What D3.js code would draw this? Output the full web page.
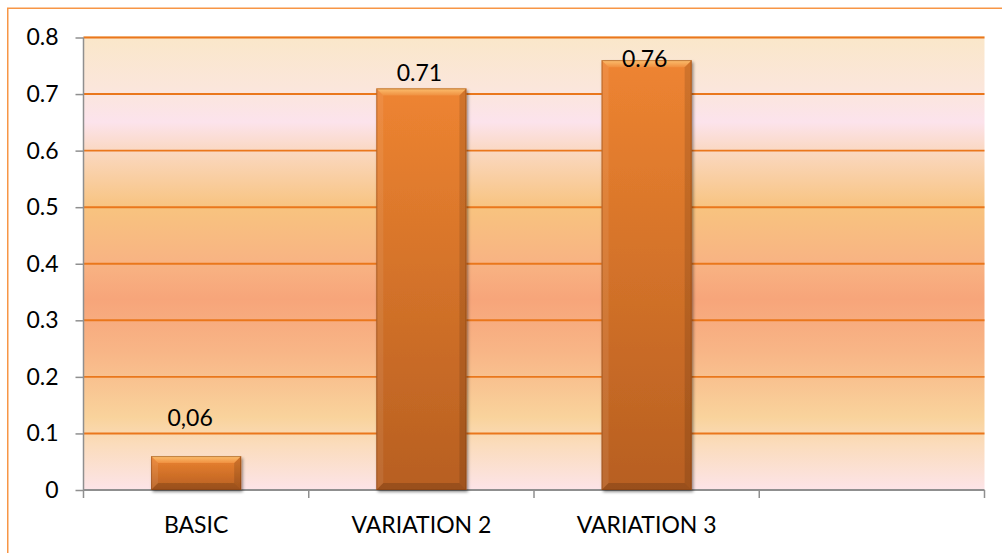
<!DOCTYPE html>
<html>
<head>
<meta charset="utf-8">
<script src="https://cdn.jsdelivr.net/npm/d3@7"></script>
<style>
  html, body { margin: 0; padding: 0; background: #ffffff; }
  svg { display: block; }
  text { font-family: Lato, "Open Sans", "Liberation Sans", sans-serif; fill: #000; }
</style>
</head>
<body>
<svg id="chart" width="1002" height="553"></svg>
<script>
// Categories along the x axis (the fourth slot is empty)
const categories = ["BASIC", "VARIATION 2", "VARIATION 3", ""];
// Bar values
const values = [0.06, 0.71, 0.76];
// Text shown above each bar
const valueLabels = ["0,06", "0.71", "0.76"];
// Y axis ticks
const yTicks = [0, 0.1, 0.2, 0.3, 0.4, 0.5, 0.6, 0.7, 0.8];
const yTickLabels = ["0", "0.1", "0.2", "0.3", "0.4", "0.5", "0.6", "0.7", "0.8"];

const svg = d3.select("#chart");
const W = 1002, H = 553;
const plot = { left: 83.5, right: 984.5, top: 37.5, bottom: 490 };

const x = d3.scaleBand().domain(d3.range(categories.length))
  .range([plot.left, plot.right]).paddingInner(0.6).paddingOuter(0.3);
const xb = d3.scaleBand().domain(d3.range(categories.length))
  .range([plot.left, plot.right]);
const y = d3.scaleLinear().domain([0, 0.8]).range([plot.bottom, plot.top]);

const defs = svg.append("defs");

// Plot-area background bands
const bg = defs.append("linearGradient").attr("id", "bgGrad")
  .attr("x1", 0).attr("y1", 0).attr("x2", 0).attr("y2", 1);
[
  [0.00, "#fae7c9"],
  [0.12, "#fbe6dc"],
  [0.19, "#fce3ec"],
  [0.26, "#fad7bd"],
  [0.38, "#f8c37f"],
  [0.50, "#f8b383"],
  [0.58, "#f7a57a"],
  [0.70, "#f8b687"],
  [0.84, "#f9d39c"],
  [0.90, "#fbdcbc"],
  [1.00, "#fce4e8"]
].forEach(([o, c]) => bg.append("stop").attr("offset", o).attr("stop-color", c));

// Bar body gradient
const bar = defs.append("linearGradient").attr("id", "barGrad")
  .attr("x1", 0).attr("y1", 0).attr("x2", 0).attr("y2", 1);
bar.append("stop").attr("offset", 0).attr("stop-color", "#ee8431");
bar.append("stop").attr("offset", 1).attr("stop-color", "#b75f21");

const topBevel = defs.append("linearGradient").attr("id", "topBevel")
  .attr("x1", 0).attr("y1", 0).attr("x2", 0).attr("y2", 1);
topBevel.append("stop").attr("offset", 0).attr("stop-color", "#fcc070");
topBevel.append("stop").attr("offset", 1).attr("stop-color", "#f09040");

const shadow = defs.append("filter").attr("id", "shadow")
  .attr("x", "-20%").attr("y", "-20%").attr("width", "140%").attr("height", "140%");
shadow.append("feDropShadow").attr("dx", 1.5).attr("dy", 2).attr("stdDeviation", 1.8)
  .attr("flood-color", "#000").attr("flood-opacity", 0.45);

// Outer chart border
svg.append("rect")
  .attr("x", 7.75).attr("y", 8.25).attr("width", W).attr("height", H)
  .attr("fill", "none").attr("stroke", "#f79646").attr("stroke-width", 1.5);

// Plot background
svg.append("rect")
  .attr("x", plot.left).attr("y", plot.top - 1.5)
  .attr("width", plot.right - plot.left).attr("height", plot.bottom - plot.top + 1.5)
  .attr("fill", "url(#bgGrad)");

// Gridlines
svg.append("g").selectAll("line")
  .data(yTicks.filter(t => t > 0))
  .join("line")
  .attr("x1", plot.left).attr("x2", plot.right)
  .attr("y1", d => y(d)).attr("y2", d => y(d))
  .attr("stroke", "#ea771c").attr("stroke-width", 1.9);

// Y axis
const yAxis = svg.append("g").attr("transform", `translate(${plot.left},0)`)
  .call(d3.axisLeft(y).tickValues(yTicks).tickSize(8).tickPadding(17)
    .tickFormat((d, i) => yTickLabels[i]));
yAxis.select(".domain").attr("stroke", "#8f8f8f").attr("stroke-width", 1.5)
  .attr("d", `M0,${plot.top}V${plot.bottom}`);
yAxis.selectAll(".tick line").attr("stroke", "#8f8f8f").attr("stroke-width", 1.5);
yAxis.selectAll(".tick text").attr("font-size", 23)
  .attr("font-family", "Lato, 'Open Sans', sans-serif").attr("fill", "#000");

// X axis
const xAxis = svg.append("g").attr("transform", `translate(0,${plot.bottom})`);
xAxis.append("line").attr("x1", plot.left).attr("x2", plot.right)
  .attr("stroke", "#8f8f8f").attr("stroke-width", 1.8);
xAxis.selectAll("line.tick")
  .data(d3.range(categories.length + 1))
  .join("line").attr("class", "tick")
  .attr("x1", d => d < categories.length ? xb(d) : plot.right)
  .attr("x2", d => d < categories.length ? xb(d) : plot.right)
  .attr("y1", 0).attr("y2", 8)
  .attr("stroke", "#8f8f8f").attr("stroke-width", 1.5);
xAxis.selectAll("text")
  .data(categories)
  .join("text")
  .attr("x", (d, i) => xb(i) + xb.bandwidth() / 2)
  .attr("y", 42.5)
  .attr("text-anchor", "middle")
  .attr("font-size", 23)
  .text(d => d);

// Bars with bevelled edges
const bev = 7;
const bars = svg.append("g").selectAll("g.bar")
  .data(values)
  .join("g").attr("class", "bar");

bars.each(function (v, i) {
  const g = d3.select(this);
  const x0 = x(i), w = x.bandwidth();
  const y0 = y(v), h = y(0) - y(v);
  const b = Math.min(bev, h / 2);
  g.append("rect").attr("x", x0).attr("y", y0).attr("width", w).attr("height", h)
    .attr("fill", "url(#barGrad)").attr("filter", "url(#shadow)");
  // top bevel
  g.append("path")
    .attr("d", `M${x0},${y0}H${x0 + w}L${x0 + w - b},${y0 + b}H${x0 + b}Z`)
    .attr("fill", "url(#topBevel)");
  // left bevel
  g.append("path")
    .attr("d", `M${x0},${y0}L${x0 + b},${y0 + b}V${y0 + h - b}L${x0},${y0 + h}Z`)
    .attr("fill", "#ffffff").attr("fill-opacity", 0.08);
  // right bevel
  g.append("path")
    .attr("d", `M${x0 + w},${y0}L${x0 + w - b},${y0 + b}V${y0 + h - b}L${x0 + w},${y0 + h}Z`)
    .attr("fill", "#000000").attr("fill-opacity", 0.12);
  // bottom bevel
  g.append("path")
    .attr("d", `M${x0},${y0 + h}L${x0 + b},${y0 + h - b}H${x0 + w - b}L${x0 + w},${y0 + h}Z`)
    .attr("fill", "#000000").attr("fill-opacity", 0.16);
  // outline
  g.append("rect").attr("x", x0 + 0.5).attr("y", y0 + 0.5)
    .attr("width", w - 1).attr("height", h - 1)
    .attr("fill", "none").attr("stroke", "#7a3a0e").attr("stroke-opacity", 0.45)
    .attr("stroke-width", 1);
});

// Value labels, kept above the 0.1 gridline and inside the plot top
svg.append("g").selectAll("text")
  .data(values)
  .join("text")
  .attr("x", (d, i) => x(i) + x.bandwidth() / 2 - (d < 0.1 ? 6 : 2))
  .attr("y", d => Math.max(Math.min(y(d) - 7, y(0.1) - 7), y(0.8) + 29))
  .attr("text-anchor", "middle")
  .attr("font-size", 23)
  .text((d, i) => valueLabels[i]);
</script>
</body>
</html>
